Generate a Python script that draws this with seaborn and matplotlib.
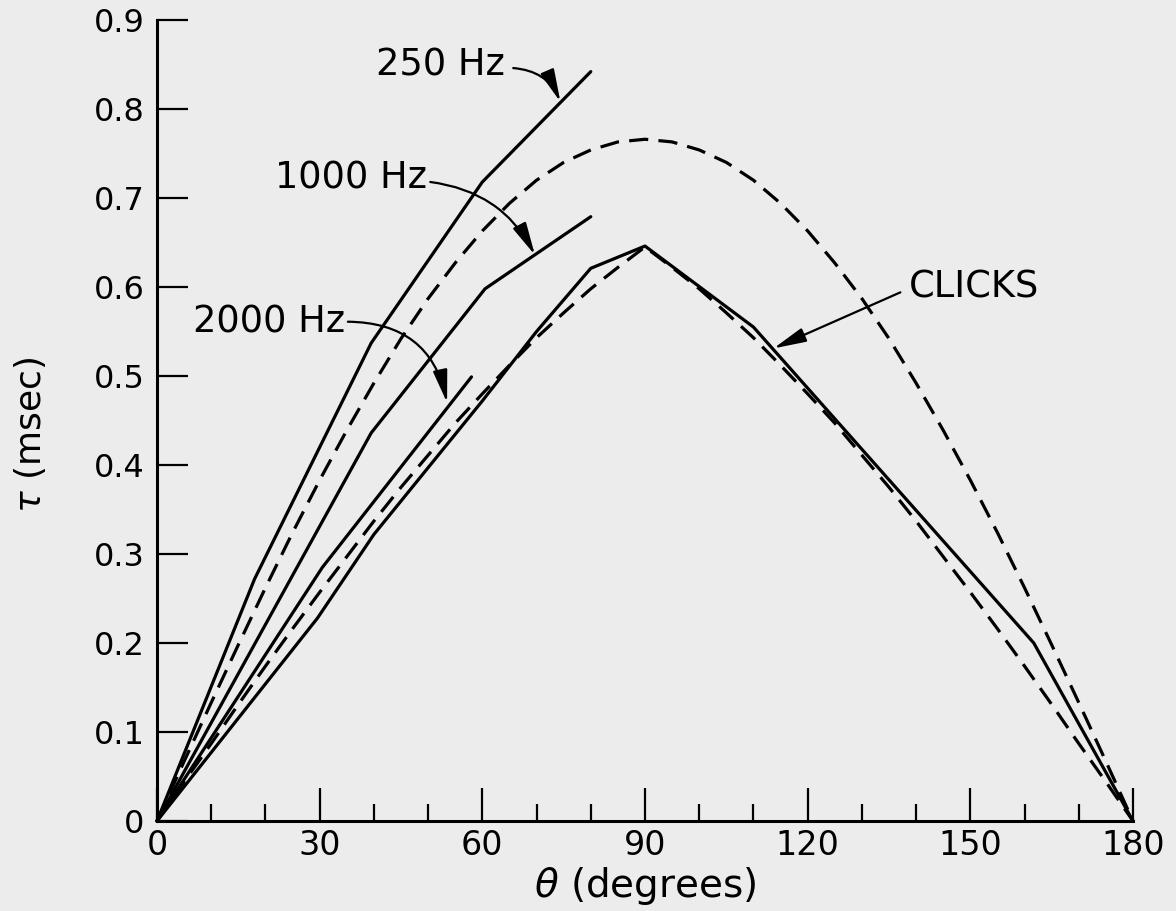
import numpy as np
import pandas as pd
import matplotlib
matplotlib.use("Agg")
import matplotlib.pyplot as plt
import seaborn as sns

# ---- data (theta in degrees, tau in msec) ----
theta_250 = [0, 18, 39.5, 60, 80]
tau_250 = [0, 0.272, 0.537, 0.718, 0.842]

theta_1000 = [0, 39.5, 60.5, 80]
tau_1000 = [0, 0.436, 0.598, 0.679]

theta_2000 = [0, 30.5, 58]
tau_2000 = [0, 0.285, 0.499]

theta_clicks = [0, 29.6, 40, 50, 60, 70, 80, 90, 110, 161.7, 180]
tau_clicks = [0, 0.228, 0.322, 0.397, 0.472, 0.55, 0.621, 0.646, 0.555, 0.200, 0]

theta_dash = [0, 5, 10, 15, 20, 25, 30, 35, 40, 45, 50, 55, 60, 65, 70, 75, 80, 85, 90,
              95, 100, 105, 110, 115, 120, 125, 130, 135, 140, 145, 150, 155, 160, 165,
              170, 175, 180]
tau_dash_upper = [0, 0.067, 0.133, 0.198, 0.262, 0.324, 0.383, 0.439, 0.492, 0.542,
                  0.587, 0.627, 0.663, 0.694, 0.720, 0.740, 0.754, 0.763, 0.766,
                  0.763, 0.754, 0.740, 0.720, 0.694, 0.663, 0.627, 0.587, 0.542,
                  0.492, 0.439, 0.383, 0.324, 0.262, 0.198, 0.133, 0.067, 0]
tau_dash_lower = [0, 0.044, 0.087, 0.131, 0.174, 0.216, 0.257, 0.297, 0.337, 0.375,
                  0.411, 0.447, 0.480, 0.512, 0.543, 0.571, 0.598, 0.622, 0.645,
                  0.622, 0.598, 0.571, 0.543, 0.512, 0.480, 0.447, 0.411, 0.375,
                  0.337, 0.297, 0.257, 0.216, 0.174, 0.131, 0.087, 0.044, 0]

x_ticks = [0, 30, 60, 90, 120, 150, 180]
x_minor = list(range(0, 181, 10))
y_ticks = [0, 0.1, 0.2, 0.3, 0.4, 0.5, 0.6, 0.7, 0.8, 0.9]
y_ticklabels = ["0", "0.1", "0.2", "0.3", "0.4", "0.5", "0.6", "0.7", "0.8", "0.9"]

labels = ["250 Hz", "1000 Hz", "2000 Hz", "CLICKS"]

# ---- figure ----
sns.set_theme(style="ticks")
plt.rcParams["font.family"] = ["DejaVu Sans"]
bg = "#ececec"
fig = plt.figure(figsize=(11.76, 9.11), dpi=100, facecolor=bg)
ax = fig.add_axes([157 / 1176, 90 / 911, (1133 - 157) / 1176, 801 / 911])
ax.set_facecolor(bg)

lw = 2.3
solid = dict(color="black", linewidth=lw, estimator=None, sort=False, clip_on=False)
dashed = dict(color="black", linewidth=lw, estimator=None, sort=False, clip_on=False,
              linestyle=(0, (6, 3.2)))

sns.lineplot(x=theta_250, y=tau_250, ax=ax, **solid)
sns.lineplot(x=theta_1000, y=tau_1000, ax=ax, **solid)
sns.lineplot(x=theta_2000, y=tau_2000, ax=ax, **solid)
sns.lineplot(x=theta_clicks, y=tau_clicks, ax=ax, **solid)
sns.lineplot(x=theta_dash, y=tau_dash_upper, ax=ax, **dashed)
sns.lineplot(x=theta_dash, y=tau_dash_lower, ax=ax, **dashed)

ax.set_xlim(0, 180)
ax.set_ylim(0, 0.9)

for s in ["top", "right"]:
    ax.spines[s].set_visible(False)
for s in ["left", "bottom"]:
    ax.spines[s].set_linewidth(2.2)
    ax.spines[s].set_color("black")

ax.set_xticks(x_ticks)
ax.set_xticks(x_minor, minor=True)
ax.set_xticklabels([str(t) for t in x_ticks])
ax.set_yticks(y_ticks)
ax.set_yticklabels(y_ticklabels)
ax.tick_params(axis="x", which="major", direction="in", length=24, width=1.6,
               labelsize=24, pad=6, color="black", labelcolor="black")
ax.tick_params(axis="x", which="minor", direction="in", length=12, width=1.6,
               color="black")
ax.tick_params(axis="y", which="major", direction="in", length=22, width=1.6,
               labelsize=23, pad=9, color="black", labelcolor="black")

ax.set_xlabel(r"$\theta$ (degrees)", fontsize=28, labelpad=2, color="black")
ax.set_ylabel(r"$\tau$ (msec)", fontsize=26, color="black")
ax.yaxis.set_label_coords(-0.112, 0.482)

# ---- labels with arrows ----
txt = dict(fontsize=26.5, color="black", va="center")
ax.text(64.2, 0.849, labels[0], ha="right", **txt)
ax.text(49.8, 0.722, labels[1], ha="right", **txt)
ax.text(34.7, 0.561, labels[2], ha="right", **txt)
ax.text(138.7, 0.600, labels[3], ha="left", **txt)

arrow = dict(arrowstyle="-|>,head_length=1.0,head_width=0.22", color="black",
             lw=1.6, shrinkA=0, shrinkB=0, mutation_scale=20)
ax.annotate("", xy=(74.4, 0.808), xytext=(65.7, 0.846),
            arrowprops=dict(connectionstyle="arc3,rad=-0.3", **arrow))
ax.annotate("", xy=(69.7, 0.636), xytext=(50.4, 0.718),
            arrowprops=dict(connectionstyle="arc3,rad=-0.26", **arrow))
ax.annotate("", xy=(53.5, 0.470), xytext=(35.2, 0.561),
            arrowprops=dict(connectionstyle="arc3,rad=-0.4", **arrow))
ax.annotate("", xy=(113.7, 0.531), xytext=(137.1, 0.594),
            arrowprops=dict(connectionstyle="arc3,rad=0", **arrow))

fig.savefig("out.png", dpi=100, facecolor=bg)
